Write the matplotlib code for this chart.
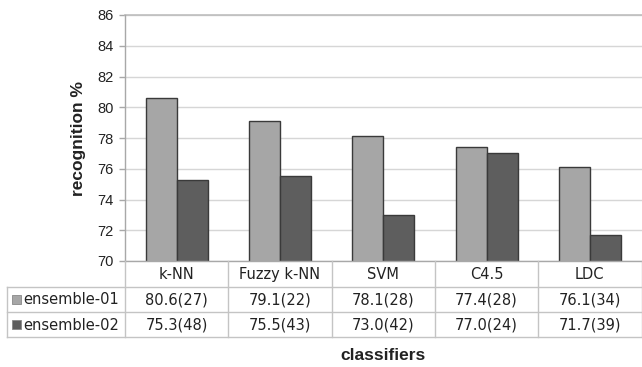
import matplotlib
matplotlib.use("Agg")
import matplotlib.pyplot as plt
import numpy as np

classifiers = ["k-NN", "Fuzzy k-NN", "SVM", "C4.5", "LDC"]
series_names = ["ensemble-01", "ensemble-02"]
ensemble_01 = [80.6, 79.1, 78.1, 77.4, 76.1]
ensemble_02 = [75.3, 75.5, 73.0, 77.0, 71.7]
counts_01 = [27, 22, 28, 28, 34]
counts_02 = [48, 43, 42, 24, 39]
y_ticks = [70, 72, 74, 76, 78, 80, 82, 84, 86]

light = "#a6a6a6"
dark = "#5e5e5e"
edge = "#3a3a3a"
grid_c = "#d6d6d6"
line_c = "#c4c4c4"

W, H = 642, 367
fig = plt.figure(figsize=(W / 100, H / 100), dpi=100)
fig.patch.set_facecolor("white")

def px_rect(x0, y0, x1, y1):
    return [x0 / W, 1 - y1 / H, (x1 - x0) / W, (y1 - y0) / H]

# plotting area
ax = fig.add_axes(px_rect(125, 15, 641.5, 261))
x = np.arange(len(classifiers))
bw = 0.3
ax.bar(x - bw / 2, ensemble_01, bw, bottom=0, color=light, edgecolor=edge, linewidth=1.0, zorder=3)
ax.bar(x + bw / 2, ensemble_02, bw, bottom=0, color=dark, edgecolor=edge, linewidth=1.0, zorder=3)
ax.set_xlim(-0.5, len(classifiers) - 0.5)
ax.set_ylim(70, 86)
ax.set_yticks(y_ticks)
ax.set_yticklabels([str(t) for t in y_ticks], family="Liberation Sans", fontsize=10.5, color="#222222")
ax.set_xticks([])
ax.yaxis.grid(True, color=grid_c, linewidth=1.0, zorder=0)
ax.set_axisbelow(True)
for s in ["top", "right", "bottom"]:
    ax.spines[s].set_visible(False)
ax.spines["left"].set_color("#a8a8a8")
ax.spines["left"].set_linewidth(1.0)
ax.axhline(86, color="#bdbdbd", linewidth=1.2, zorder=1, clip_on=False)
ax.tick_params(axis="y", length=4, width=1, color="#a8a8a8", pad=4)
ax.set_ylabel("recognition %", family="Liberation Sans", fontsize=12.5, fontweight="bold",
              color="#222222", labelpad=8)

# data table underneath the bars
tab = fig.add_axes(px_rect(7, 261, 641.5, 337))
col_w = (641.5 - 125) / len(classifiers)
label_w = (125 - 7) / col_w
tab.set_xlim(-0.5 - label_w, len(classifiers) - 0.5)
tab.set_ylim(76, 0)
tab.axis("off")

row_edges = [0, 26, 51, 76]
left = -0.5 - label_w
right = len(classifiers) - 0.5
lw = 1.0
# horizontal rules
tab.plot([-0.5, right], [0, 0], color="#a8a8a8", lw=lw, clip_on=False)
for yy in row_edges[1:]:
    tab.plot([left, right], [yy, yy], color=line_c, lw=lw, clip_on=False)
# vertical rules
for i in range(len(classifiers) + 1):
    xx = -0.5 + i
    tab.plot([xx, xx], [0, 76], color=line_c, lw=lw, clip_on=False)
tab.plot([left, left], [26, 76], color=line_c, lw=lw, clip_on=False)

tfont = dict(family="DejaVu Sans", fontsize=10.5, color="#222222")
for i, name in enumerate(classifiers):
    tab.text(i, 13.5, name, ha="center", va="center", **tfont)

rows = [(ensemble_01, counts_01, light), (ensemble_02, counts_02, dark)]
for r, (vals, cnts, col) in enumerate(rows):
    yc = (row_edges[r + 1] + row_edges[r + 2]) / 2
    for i, (v, c) in enumerate(zip(vals, cnts)):
        tab.text(i, yc + 0.5, f"{v:.1f}({c})", ha="center", va="center", **tfont)
    sq = 9 / col_w
    tab.add_patch(plt.Rectangle((left + 5 / col_w, yc - 4.5), sq, 9, facecolor=col,
                                edgecolor="#888888", linewidth=0.6, clip_on=False))
    tab.text(left + 16 / col_w, yc + 0.5, series_names[r], ha="left", va="center", **tfont)

fig.text((125 + 641.5) / 2 / W, 1 - 356 / H, "classifiers", ha="center", va="center",
         family="Liberation Sans", fontsize=12.5, fontweight="bold", color="#222222")

fig.savefig("out.png", dpi=100)
